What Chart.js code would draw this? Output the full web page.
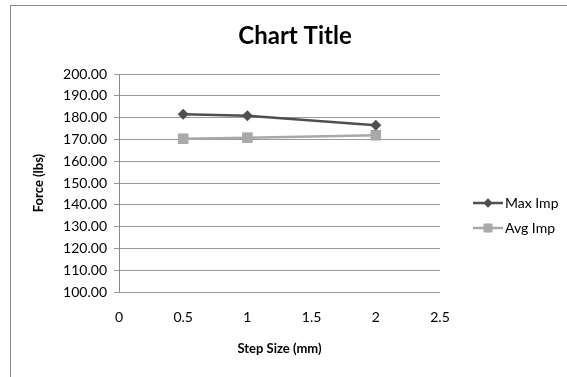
<!DOCTYPE html>
<html>
<head>
<meta charset="utf-8">
<script src="https://cdn.jsdelivr.net/npm/chart.js@4/dist/chart.umd.min.js"></script>
<style>
  html, body { margin: 0; padding: 0; background: #fff; overflow: hidden; }
  #wrap { position: relative; width: 567px; height: 377px; }
  #frame { position: absolute; left: 10px; top: 5px; width: 600px; height: 400px;
           border-left: 1px solid #8c8c8c; border-top: 1px solid #8c8c8c; box-sizing: border-box; }
  canvas { position: absolute; left: 0; top: 0; }
</style>
</head>
<body>
<div id="wrap">
  <div id="frame"></div>
  <canvas id="c" width="567" height="377"></canvas>
</div>
<script>
// Step sizes (mm) and measured forces (lbs)
const stepSizes = [0.5, 1, 2];
const maxImp = [181.5, 180.8, 176.5];
const avgImp = [170.3, 170.8, 171.9];
const xTicks = [0, 0.5, 1, 1.5, 2, 2.5];
const yTicks = [100, 110, 120, 130, 140, 150, 160, 170, 180, 190, 200];
const chartTitle = 'Chart Title';

const FONT = "Lato, 'Open Sans', sans-serif";

const seriesDefs = [
  { label: 'Max Imp', values: maxImp, color: '#4f4f4f', style: 'rectRot', radius: 5.5 },
  { label: 'Avg Imp', values: avgImp, color: '#a9a9a9', style: 'rect', radius: 7.5 }
];

// Title centred over the whole frame, and the legend to the right of the plot
const decorations = {
  id: 'decorations',
  afterDraw(chart) {
    const ctx = chart.ctx;
    ctx.save();
    ctx.fillStyle = '#000';
    ctx.font = "bold 24px " + FONT;
    ctx.textAlign = 'center';
    ctx.textBaseline = 'middle';
    ctx.fillText(chartTitle, 295, 36);
    ctx.restore();

    const x0 = 473, x1 = 503;
    const rows = [203, 228];
    chart.data.datasets.forEach((ds, i) => {
      const y = rows[i];
      ctx.save();
      ctx.strokeStyle = ds.borderColor;
      ctx.fillStyle = ds.backgroundColor;
      ctx.lineWidth = ds.borderWidth;
      ctx.beginPath();
      ctx.moveTo(x0, y);
      ctx.lineTo(x1, y);
      ctx.stroke();
      Chart.helpers.drawPoint(ctx, {
        pointStyle: ds.pointStyle,
        radius: ds.pointRadius * 0.85,
        borderWidth: 0
      }, (x0 + x1) / 2, y);
      ctx.fillStyle = '#000';
      ctx.font = "14px " + FONT;
      ctx.textBaseline = 'middle';
      ctx.textAlign = 'left';
      ctx.fillText(ds.label, x1 + 2, y);
      ctx.restore();
    });
  }
};

const ctx = document.getElementById('c').getContext('2d');
new Chart(ctx, {
  type: 'scatter',
  data: {
    datasets: seriesDefs.map(s => ({
      label: s.label,
      data: stepSizes.map((x, i) => ({ x: x, y: s.values[i] })),
      showLine: true,
      borderColor: s.color,
      backgroundColor: s.color,
      pointBackgroundColor: s.color,
      pointBorderColor: s.color,
      pointBorderWidth: 0,
      borderWidth: 2.5,
      pointStyle: s.style,
      pointRadius: s.radius,
      pointHoverRadius: s.radius,
      tension: 0
    }))
  },
  options: {
    responsive: false,
    animation: false,
    layout: { padding: { left: 31, right: 127, top: 74, bottom: 20 } },
    plugins: {
      legend: { display: false },
      tooltip: { enabled: false },
      title: { display: false }
    },
    scales: {
      x: {
        type: 'linear',
        min: 0,
        max: 2.5,
        afterBuildTicks(scale) { scale.ticks = xTicks.map(v => ({ value: v })); },
        afterFit(scale) { scale.height = 65; },
        grid: { display: false, drawTicks: false },
        border: { display: false },
        ticks: {
          color: '#000',
          font: { family: FONT, size: 14 },
          padding: 17,
          callback: v => String(v)
        },
        title: {
          display: true,
          text: 'Step Size (mm)',
          color: '#000',
          font: { family: FONT, size: 13, weight: 'bold' },
          padding: { top: 6, bottom: 0 }
        }
      },
      y: {
        min: 100,
        max: 200,
        afterBuildTicks(scale) { scale.ticks = yTicks.map(v => ({ value: v })); },
        afterFit(scale) { scale.width = 88; },
        grid: { color: '#9a9a9a', lineWidth: 1, tickLength: 5, drawTicks: true },
        border: { display: true, color: '#8a8a8a', width: 1 },
        ticks: {
          color: '#000',
          font: { family: FONT, size: 14 },
          padding: 7,
          callback: v => v.toFixed(2)
        },
        title: {
          display: true,
          text: 'Force (lbs)',
          color: '#000',
          font: { family: FONT, size: 13, weight: 'bold' },
          padding: { top: 0, bottom: 0 }
        }
      }
    }
  },
  plugins: [decorations]
});
</script>
</body>
</html>
